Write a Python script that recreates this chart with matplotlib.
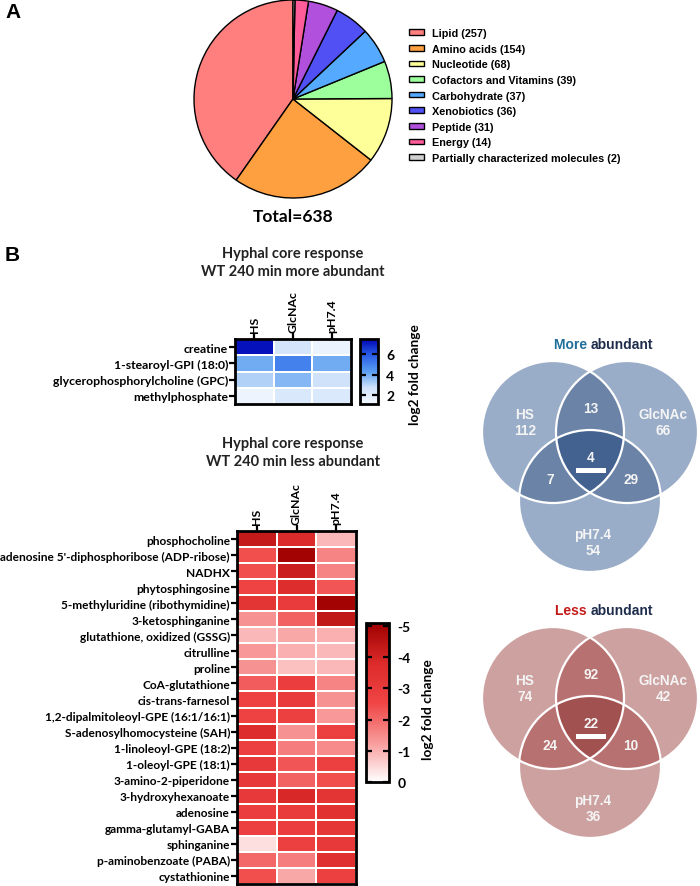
import numpy as np
import matplotlib
matplotlib.use('Agg')
import matplotlib.pyplot as plt
from matplotlib.colors import LinearSegmentedColormap
from matplotlib.patches import Circle, Rectangle

# ------------------------------------------------------------------------------
# Data
# ------------------------------------------------------------------------------

pie_labels = ['Lipid', 'Amino acids', 'Nucleotide', 'Cofactors and Vitamins',
              'Carbohydrate', 'Xenobiotics', 'Peptide', 'Energy',
              'Partially characterized molecules']
pie_counts = [257, 154, 68, 39, 37, 36, 31, 14, 2]
pie_colors = ['#ff7f7f', '#ffa040', '#ffff99', '#9cff9c', '#55aaff',
              '#5050f5', '#b050dc', '#ff5c9a', '#d0d0d0']

conditions = ['HS', 'GlcNAc', 'pH7.4']

more_names = ['creatine', '1-stearoyl-GPI (18:0)',
              'glycerophosphorylcholine (GPC)', 'methylphosphate']
more_hs = [7.3, 4.0, 3.1, 1.4]
more_glc = [2.5, 5.0, 3.7, 2.3]
more_ph = [1.5, 4.0, 2.7, 2.2]

less_names = ['phosphocholine', "adenosine 5'-diphosphoribose (ADP-ribose)",
              'NADHX', 'phytosphingosine', '5-methyluridine (ribothymidine)',
              '3-ketosphinganine', 'glutathione, oxidized (GSSG)', 'citrulline',
              'proline', 'CoA-glutathione', 'cis-trans-farnesol',
              '1,2-dipalmitoleoyl-GPE (16:1/16:1)', 'S-adenosylhomocysteine (SAH)',
              '1-linoleoyl-GPE (18:2)', '1-oleoyl-GPE (18:1)',
              '3-amino-2-piperidone', '3-hydroxyhexanoate', 'adenosine',
              'gamma-glutamyl-GABA', 'sphinganine', 'p-aminobenzoate (PABA)',
              'cystathionine']
less_hs = [-4.3, -2.4, -2.4, -2.6, -3.3, -1.4, -0.9, -1.3, -1.4, -2.2, -2.7,
           -2.7, -3.7, -2.8, -3.1, -3.1, -3.1, -2.9, -2.8, -0.4, -2.0, -2.4]
less_glc = [-3.8, -5.0, -4.2, -3.7, -3.0, -2.1, -1.1, -1.0, -0.8, -2.9, -3.0,
            -2.8, -1.4, -1.7, -2.3, -2.1, -3.9, -3.0, -2.9, -2.8, -1.7, -1.1]
less_ph = [-0.9, -1.6, -1.6, -2.3, -5.0, -4.4, -1.0, -0.9, -0.9, -1.6, -1.4,
           -1.3, -2.8, -1.5, -2.8, -2.4, -3.3, -3.5, -3.2, -3.1, -3.6, -2.8]

# venn counts: HS only, GlcNAc only, pH only, HS&GlcNAc, HS&pH, GlcNAc&pH, all
venn_more = [112, 66, 54, 13, 7, 29, 4]
venn_less = [74, 42, 36, 92, 24, 10, 22]

# ------------------------------------------------------------------------------
# Figure
# ------------------------------------------------------------------------------

W, H = 700, 887
fig = plt.figure(figsize=(W / 100, H / 100), dpi=100)

calib = ['Lato', 'DejaVu Sans']
arial = ['Liberation Sans', 'DejaVu Sans']


def px(x0, y0, x1, y1):
    return [x0 / W, 1 - y1 / H, (x1 - x0) / W, (y1 - y0) / H]


# overlay axes in pixel units for free text and venns
ov = fig.add_axes([0, 0, 1, 1])
ov.set_xlim(0, W)
ov.set_ylim(H, 0)
ov.axis('off')

ov.text(5, 13, 'A', fontsize=15, fontweight='bold', family=arial, va='center')
ov.text(5, 256, 'B', fontsize=15, fontweight='bold', family=arial, va='center')

# --- pie ---
ax_pie = fig.add_axes(px(193, 0, 393, 200))
wedges, _ = ax_pie.pie(pie_counts, colors=pie_colors, startangle=90,
                       counterclock=True,
                       wedgeprops=dict(edgecolor='black', linewidth=1.0))
ax_pie.set_xlim(-1.01, 1.01)
ax_pie.set_ylim(-1.01, 1.01)
ov.text(293, 217, 'Total=' + str(sum(pie_counts)), fontsize=12.5,
        fontweight='bold', family=calib, ha='center', va='center')

leg_labels = [f'{l} ({c})' for l, c in zip(pie_labels, pie_counts)]
fig.legend(wedges, leg_labels, loc='upper left',
           bbox_to_anchor=(409 / W, 1 - 29 / H), frameon=False,
           prop=dict(family=arial, weight='bold', size=7.8),
           handlelength=1.35, handleheight=0.42, handletextpad=0.75,
           labelspacing=0.52, borderpad=0, borderaxespad=0)

# --- heatmaps ---
blue_cmap = LinearSegmentedColormap.from_list(
    'blu', ['#f4f8ff', '#cfe2fa', '#5a9ef0', '#2a5ee6', '#0006b4'])
red_cmap = LinearSegmentedColormap.from_list(
    'red', ['#9e0000', '#dc2a2a', '#f04444', '#f89a9a', '#ffffff'])


def heat(rect, names, cols, cmap, vmin, vmax, fs):
    ax = fig.add_axes(rect)
    data = np.array(cols).T
    im = ax.pcolormesh(data, cmap=cmap, vmin=vmin, vmax=vmax,
                       edgecolors='white', linewidth=1.3)
    ax.set_xlim(0, data.shape[1])
    ax.set_ylim(data.shape[0], 0)
    ax.set_yticks(np.arange(len(names)) + 0.5)
    ax.set_yticklabels(names, family=calib, fontweight='bold', fontsize=fs)
    ax.set_xticks(np.arange(len(conditions)) + 0.5)
    ax.set_xticklabels(conditions, rotation=90, family=calib,
                       fontweight='bold', fontsize=8.8)
    ax.xaxis.tick_top()
    ax.tick_params(length=4, width=1.6, pad=1)
    for s in ax.spines.values():
        s.set_linewidth(2.0)
    return im


im_more = heat(px(235, 340, 351, 405), more_names,
               [more_hs, more_glc, more_ph], blue_cmap, 1.1, 7.5, 8.8)
im_less = heat(px(237, 532, 356, 885), less_names,
               [less_hs, less_glc, less_ph], red_cmap, -5.1, 0, 8.6)


def cbar(im, rect, ticks, labx, laby):
    cax = fig.add_axes(rect)
    cb = fig.colorbar(im, cax=cax, ticks=ticks)
    cb.outline.set_linewidth(2.0)
    cax.tick_params(direction='in', left=True, right=True, length=4,
                    width=1.6, labelsize=10, pad=6)
    for t in cax.get_yticklabels():
        t.set_family(calib)
        t.set_fontweight('bold')
    ov.text(labx, laby, 'log2 fold change', rotation=90, fontsize=9.8,
            fontweight='bold', family=calib, ha='center', va='center')
    return cb


cbar(im_more, px(360, 340, 378, 405), [2, 4, 6], 415, 375)
cb_less = cbar(im_less, px(366, 624, 389, 783), [-5, -4, -3, -2, -1, 0], 428, 710)
cb_less.ax.set_yticklabels(['-5', '-4', '-3', '-2', '-1', '0'],
                           family=calib, fontweight='bold')
cb_less.ax.invert_yaxis()

ov.text(293, 263, 'Hyphal core response\nWT 240 min more abundant',
        fontsize=10.5, fontweight='bold', family=calib, ha='center',
        va='center', linespacing=1.35, color='#222222')
ov.text(293, 453, 'Hyphal core response\nWT 240 min less abundant',
        fontsize=10.5, fontweight='bold', family=calib, ha='center',
        va='center', linespacing=1.35, color='#222222')

# --- venn diagrams ---
r = 71


def venn(cy, counts, shades, word, word_color):
    centers = [(553, cy), (627, cy), (590, cy + 69)]
    x0, x1, y0, y1 = 470, 712, cy - 80, cy + 150
    xs = np.linspace(x0, x1, (x1 - x0) * 4)
    ys = np.linspace(y0, y1, (y1 - y0) * 4)
    gx, gy = np.meshgrid(xs, ys)
    n = np.zeros(gx.shape, dtype=int)
    for cx, cyy in centers:
        n += ((gx - cx) ** 2 + (gy - cyy) ** 2 <= r ** 2).astype(int)
    img = np.zeros(gx.shape + (4,))
    for k in range(1, 4):
        img[n == k] = matplotlib.colors.to_rgba(shades[k - 1])
    ov.imshow(img, extent=(x0, x1, y1, y0), interpolation='bilinear',
              zorder=1)
    for cx, cyy in centers:
        ov.add_patch(Circle((cx, cyy), r, fill=False, edgecolor='white',
                            linewidth=1.6, zorder=2))
    tk = dict(color='#f4f4f4', fontsize=9.8, fontweight='bold', family=arial,
              ha='center', va='center', zorder=3, linespacing=1.15)
    ov.text(525, cy - 10, f'{conditions[0]}\n{counts[0]}', **tk)
    ov.text(663, cy - 10, f'{conditions[1]}\n{counts[1]}', **tk)
    ov.text(593, cy + 110, f'{conditions[2]}\n{counts[2]}', **tk)
    ov.text(591, cy - 24, str(counts[3]), **tk)
    ov.text(550, cy + 47, str(counts[4]), **tk)
    ov.text(631, cy + 47, str(counts[5]), **tk)
    ov.text(591, cy + 25, str(counts[6]), **tk)
    ov.add_patch(Rectangle((576, cy + 36), 30, 5, facecolor='white',
                           edgecolor='none', zorder=3))
    ov.text(591, cy - 88, word + ' ', color=word_color, fontsize=10,
            fontweight='bold', family=arial, ha='right', va='center')
    ov.text(591, cy - 88, 'abundant', color='#1f2d4d', fontsize=10,
            fontweight='bold', family=arial, ha='left', va='center')


venn(433, venn_more, ['#9aaec8', '#6a84a8', '#43628f'], 'More', '#1f6f9a')
venn(699, venn_less, ['#cfa1a1', '#b87272', '#a25151'], 'Less', '#c41a1a')

ov.set_xlim(0, W)
ov.set_ylim(H, 0)

fig.savefig('out.png', dpi=100)
